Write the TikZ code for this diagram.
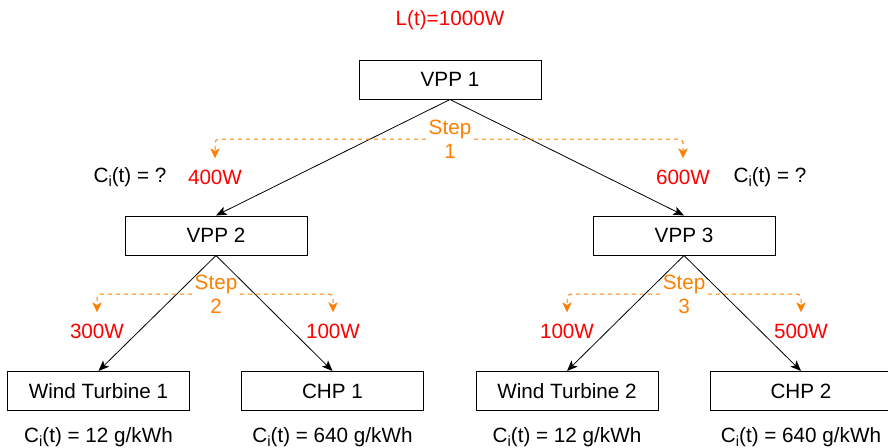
\documentclass[tikz,border=0pt]{standalone}
\usepackage{fontspec}
\setmainfont{Liberation Sans}
\usetikzlibrary{arrows.meta}
\definecolor{stepor}{HTML}{FF8000}
\definecolor{wred}{HTML}{FF0000}

\tikzset{
  unit/.style = {draw, line width = 0.75pt, shape = rectangle, minimum width = 136.5pt, minimum height = 29.25pt, inner sep = 0pt},
  flow/.style = {-{Stealth[length = 8pt, width = 6.5pt, inset = 2pt]}, line width = 0.6pt},
  stepline/.style = {stepor, dashed, line width = 0.75pt, rounded corners = 3pt, -{Stealth[length = 7.5pt, width = 7pt, inset = 2pt]}, shorten > = 5pt},
  steplabel/.style = {text = stepor, align = center, inner sep = 2pt},
  power/.style = {text = wred},
}
\newcommand{\carbon}{C\raisebox{-0.45ex}{\fontsize{11}{11}\selectfont i}(t)}

\begin{document}
\begin{tikzpicture}[x = 0.75pt, y = -0.75pt, font = \fontsize{15.5}{18}\selectfont]
\useasboundingbox (0,0) rectangle (888,447);

\node[power] (load) at (450,20) {L(t)=1000W};
\node[unit] (vpp1) at (450,79.5) {VPP 1};
\node[unit] (vpp2) at (216,235.5) {VPP 2};
\node[unit] (vpp3) at (684,235.5) {VPP 3};
\node[unit] (wt1) at (98.5,391) {Wind Turbine 1};
\node[unit] (chp1) at (332.5,391) {CHP 1};
\node[unit] (wt2) at (567,391) {Wind Turbine 2};
\node[unit] (chp2) at (801,391) {CHP 2};

% power set points
\node[power] (p400) at (215,177) {400W};
\node[power] (p600) at (683,177) {600W};
\node[power] (p300) at (97,331) {300W};
\node[power] (p100a) at (333,331) {100W};
\node[power] (p100b) at (567,331) {100W};
\node[power] (p500) at (801,331) {500W};

% carbon intensities
\node (cvpp2) at (130,177) {\carbon{} = ?};
\node (cvpp3) at (770,177) {\carbon{} = ?};
\node (cwt1) at (98.5,437) {\carbon{} = 12 g/kWh};
\node (cchp1) at (332.5,437) {\carbon{} = 640 g/kWh};
\node (cwt2) at (567,437) {\carbon{} = 12 g/kWh};
\node (cchp2) at (801,437) {\carbon{} = 640 g/kWh};

\draw[flow] (vpp1.south) -- (vpp2.north);
\draw[flow] (vpp1.south) -- (vpp3.north);
\draw[flow] (vpp2.south) -- (wt1.north);
\draw[flow] (vpp2.south) -- (chp1.north);
\draw[flow] (vpp3.south) -- (wt2.north);
\draw[flow] (vpp3.south) -- (chp2.north);

% steps
\node[steplabel] (step1) at (450,139) {Step\\1};
\node[steplabel] (step2) at (216,294) {Step\\2};
\node[steplabel] (step3) at (684,294) {Step\\3};

\draw[stepline] (step1.west) -| (p400.north);
\draw[stepline] (step1.east) -| (p600.north);
\draw[stepline] (step2.west) -| (p300.north);
\draw[stepline] (step2.east) -| (p100a.north);
\draw[stepline] (step3.west) -| (p100b.north);
\draw[stepline] (step3.east) -| (p500.north);
\end{tikzpicture}
\end{document}
